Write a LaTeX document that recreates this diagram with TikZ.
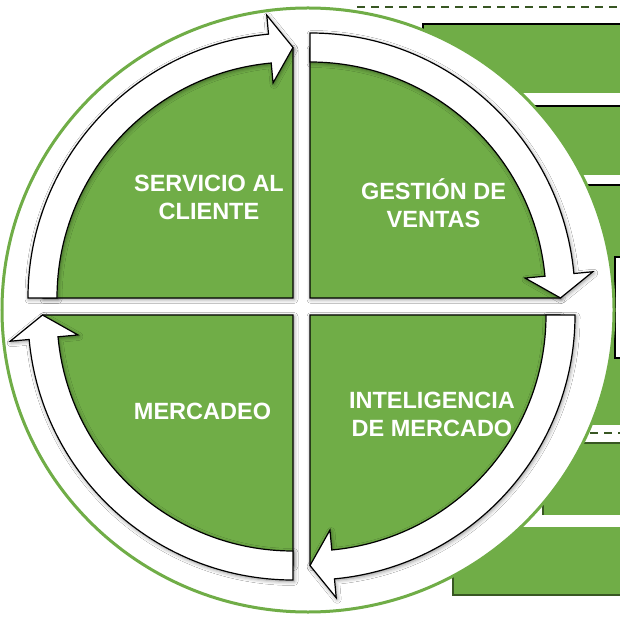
\documentclass[tikz,border=0pt]{standalone}
\usepackage{fontspec}
\setmainfont{Liberation Sans}
\usetikzlibrary{shadows.blur}
\definecolor{hojaverde}{RGB}{112,173,71}
\definecolor{verdeoscuro}{RGB}{56,87,35}

\begin{document}
\begin{tikzpicture}[x=1pt,y=1pt,
    sector/.style={fill=hojaverde,draw=black,line width=1.2pt},
    flecha/.style={fill=white,draw=black,line width=1.2pt},
    sombra/.style={blur shadow={shadow xshift=1pt,shadow yshift=-1.5pt,shadow blur radius=4pt,shadow opacity=45}},
    etiqueta/.style={text=white,font=\bfseries\fontsize{23.5}{28.5}\selectfont,align=center,inner sep=0pt}]
\useasboundingbox (0,0) rectangle (620,616);
\clip (0,0) rectangle (620,616);
% cajas del fondo
\draw[verdeoscuro,line width=2pt,dash pattern=on 8pt off 6pt] (357,609) -- (620,609);
\fill[hojaverde] (423,523) rectangle (625,592);
\draw[line width=1.5pt] (423,585) -- (423,592) -- (625,592);
\fill[hojaverde] (500,441) rectangle (625,510);
\draw[line width=1.5pt] (500,510) -- (625,510);
\fill[hojaverde] (560,191) rectangle (625,431);
\draw[line width=1.5pt] (560,431) -- (625,431);
\draw[fill=white,line width=1.5pt] (615,258) rectangle (625,359);
\draw[verdeoscuro,line width=2pt,dash pattern=on 8pt off 6pt] (590,183) -- (620,183);
\fill[hojaverde] (543,101) rectangle (625,173);
\draw[verdeoscuro,line width=1.5pt] (543,101) -- (543,173) -- (625,173);
\fill[hojaverde] (453,21) rectangle (625,89);
\draw[verdeoscuro,line width=1.5pt] (453,89) -- (453,21) -- (625,21);
% circulo
\draw[hojaverde,line width=3pt,fill=white] (308,306) ellipse [x radius=306, y radius=302];
% cuadrantes
\foreach \cx/\cy/\giro in {293/318/0,310/318/-90,310/301/-180,293/301/-270}{
  \begin{scope}[shift={(\cx,\cy)}]
    \path[sector,sombra] (0,0) -- ({180+\giro}:250) arc[start angle=180+\giro,end angle=90+\giro,radius=250] -- cycle;
    \path[flecha,sombra] ({180+\giro}:265) arc[start angle=180+\giro,end angle=95.3+\giro,radius=265]
      -- ({95.3+\giro}:284) -- ({90+\giro}:250.5) -- ({95.3+\giro}:216) -- ({95.3+\giro}:236)
      arc[start angle=95.3+\giro,end angle=180+\giro,radius=236] -- cycle;
  \end{scope}
}
\node[etiqueta] (servicio) at (209,418.5) {SERVICIO AL\\CLIENTE};
\node[etiqueta] (gestion) at (433.5,413) {GESTIÓN DE\\VENTAS};
\node[etiqueta] (mercadeo) at (202.5,204.5) {MERCADEO};
\node[etiqueta] (inteligencia) at (432,201.5) {INTELIGENCIA\\DE MERCADO};
\end{tikzpicture}
\end{document}
